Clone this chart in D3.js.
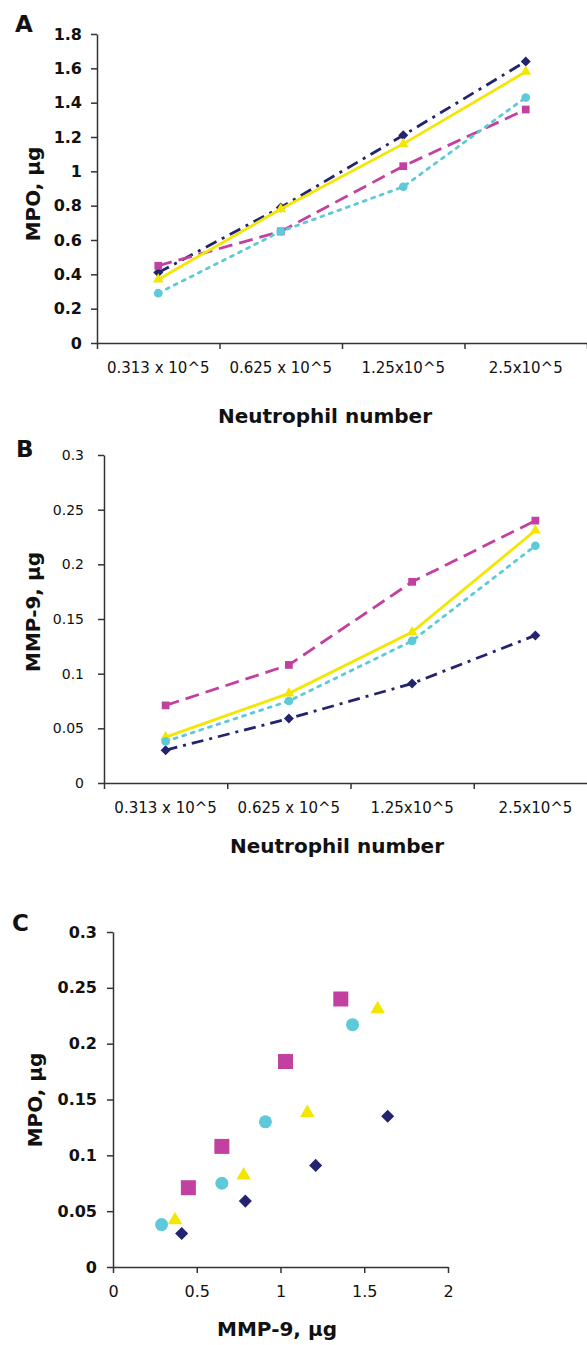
<!DOCTYPE html>
<html>
<head>
<meta charset="UTF-8">
<style>
  body { margin: 0; background: #fff; }
  svg { display: block; }
  text { font-family: "DejaVu Sans", sans-serif; fill: #111; }
</style>
</head>
<body>
<svg id="chart" width="587" height="1345"></svg>
<script src="https://d3js.org/d3.v7.min.js"></script>
<script>
// data
const groups = ["0.313 x 10^5", "0.625 x 10^5", "1.25x10^5", "2.5x10^5"];
const mpo = [
  [0.41, 0.79, 1.21, 1.64],   // navy diamonds
  [0.45, 0.65, 1.03, 1.36],   // magenta squares
  [0.37, 0.78, 1.16, 1.58],   // yellow triangles
  [0.29, 0.65, 0.91, 1.43]    // cyan circles
];
const mmp9 = [
  [0.030, 0.059, 0.091, 0.135],
  [0.071, 0.108, 0.184, 0.240],
  [0.042, 0.082, 0.138, 0.231],
  [0.038, 0.075, 0.130, 0.217]
];
const mpoTicks = [0, 0.2, 0.4, 0.6, 0.8, 1, 1.2, 1.4, 1.6, 1.8];
const mmpTicks = [0, 0.05, 0.1, 0.15, 0.2, 0.25, 0.3];
const scatterXTicks = [0, 0.5, 1, 1.5, 2];

const colors = ["#23236f", "#c2409f", "#f3e600", "#5ec9d8"];
const dashes = ["12,6,3,6", "14,7", null, "3,6"];
const symbols = ["diamond", "square", "triangle", "circle"];

const svg = d3.select("#chart");

function marker(kind, size) {
  if (kind === "diamond" || kind === "square") return d3.symbol(d3.symbolSquare, size)();
  if (kind === "triangle") return d3.symbol(d3.symbolTriangle, size)();
  return d3.symbol(d3.symbolCircle, size)();
}

function styleAxis(g) {
  g.selectAll("path.domain").attr("stroke", "#333").attr("stroke-width", 1.5);
  g.selectAll(".tick line").attr("stroke", "#333").attr("stroke-width", 1.5);
}

function linePanel(opt) {
  const x = d3.scaleBand().domain(groups).range([opt.x0, opt.x1]);
  const xb = d3.scaleLinear().domain([0, 4]).range([opt.x0, opt.x1]);
  const y = d3.scaleLinear().domain([0, opt.ymax]).range([opt.yBot, opt.yTop]);

  // ticks on the group boundaries
  svg.append("g")
    .attr("transform", `translate(0,${opt.yBot})`)
    .call(d3.axisBottom(xb).tickValues([0, 1, 2, 3, 4]).tickFormat("").tickSize(6).tickSizeOuter(0))
    .call(styleAxis);
  // group labels
  const lab = svg.append("g")
    .attr("transform", `translate(0,${opt.yBot})`)
    .call(d3.axisBottom(x).tickSize(0));
  lab.select(".domain").remove();
  lab.selectAll("text").attr("y", 19).style("font-size", "15px").attr("font-family", "DejaVu Sans");

  const ya = svg.append("g")
    .attr("transform", `translate(${opt.x0},0)`)
    .call(d3.axisLeft(y).tickValues(opt.ticks).tickSize(6).tickSizeOuter(0).tickPadding(opt.pad)
      .tickFormat(d => String(+d.toFixed(2))))
    .call(styleAxis);
  ya.selectAll("text").style("font-size", opt.yFont + "px").style("font-weight", opt.yBold ? "bold" : "normal")
    .attr("font-family", "DejaVu Sans");

  const cx = i => x(groups[i]) + x.bandwidth() / 2;
  const line = d3.line().x((d, i) => cx(i)).y(d => y(d));
  opt.data.forEach((s, k) => {
    svg.append("path").datum(s)
      .attr("d", line).attr("fill", "none")
      .attr("stroke", colors[k]).attr("stroke-width", 2.8)
      .attr("stroke-dasharray", dashes[k])
      .attr("stroke-linecap", k === 3 ? "round" : "butt");
    const sz = [50, 60, 50, 60][k];
    svg.append("g").selectAll("path").data(s).join("path")
      .attr("d", marker(symbols[k], sz))
      .attr("transform", (d, i) => `translate(${cx(i)},${y(d)})` + (symbols[k] === "diamond" ? " rotate(45)" : ""))
      .attr("fill", colors[k]);
  });

  svg.append("text").attr("x", opt.xTitleX).attr("y", opt.xTitleY)
    .attr("text-anchor", "middle").style("font-size", "20px").style("font-weight", "bold")
    .text("Neutrophil number");
  svg.append("text").attr("transform", `translate(${opt.yTitleX},${opt.yTitleY}) rotate(-90)`)
    .attr("text-anchor", "middle").style("font-size", "20px").style("font-weight", "bold")
    .text(opt.yTitle);
  svg.append("text").attr("x", opt.letterX).attr("y", opt.letterY)
    .style("font-size", "23px").style("font-weight", "bold").text(opt.letter);
}

linePanel({
  letter: "A", letterX: 15, letterY: 32,
  x0: 97, x1: 587, yTop: 34, yBot: 343, ymax: 1.8, ticks: mpoTicks,
  yFont: 16, yBold: true, pad: 9, data: mpo,
  yTitle: "MPO, µg", yTitleX: 40, yTitleY: 194,
  xTitleX: 325, xTitleY: 423
});

linePanel({
  letter: "B", letterX: 16, letterY: 457,
  x0: 104, x1: 597, yTop: 455, yBot: 783, ymax: 0.3, ticks: mmpTicks,
  yFont: 14, yBold: false, pad: 14, data: mmp9,
  yTitle: "MMP-9, µg", yTitleX: 40, yTitleY: 612,
  xTitleX: 337, xTitleY: 853
});

// panel C: MPO of each series against its MMP-9
{
  const x = d3.scaleLinear().domain([0, 2]).range([113, 448]);
  const y = d3.scaleLinear().domain([0, 0.3]).range([1267, 932]);

  const xa = svg.append("g").attr("transform", "translate(0,1267)")
    .call(d3.axisBottom(x).tickValues(scatterXTicks).tickSize(6).tickSizeOuter(0).tickPadding(13)
      .tickFormat(d => String(d)))
    .call(styleAxis);
  xa.selectAll("text").style("font-size", "16px").attr("font-family", "DejaVu Sans");

  const ya = svg.append("g").attr("transform", "translate(113,0)")
    .call(d3.axisLeft(y).tickValues(mmpTicks).tickSize(6).tickSizeOuter(0).tickPadding(10)
      .tickFormat(d => String(+d.toFixed(2))))
    .call(styleAxis);
  ya.selectAll("text").style("font-size", "16px").style("font-weight", "bold").attr("font-family", "DejaVu Sans");

  const sizes = [85, 225, 90, 133];
  mpo.forEach((s, k) => {
    svg.append("g").selectAll("path").data(s).join("path")
      .attr("d", marker(symbols[k], sizes[k]))
      .attr("transform", (d, i) => `translate(${x(d)},${y(mmp9[k][i])})` + (symbols[k] === "diamond" ? " rotate(45)" : ""))
      .attr("fill", colors[k]);
  });

  svg.append("text").attr("x", 277).attr("y", 1336)
    .attr("text-anchor", "middle").style("font-size", "20px").style("font-weight", "bold")
    .text("MMP-9, µg");
  svg.append("text").attr("transform", "translate(42,1100) rotate(-90)")
    .attr("text-anchor", "middle").style("font-size", "20px").style("font-weight", "bold")
    .text("MPO, µg");
  svg.append("text").attr("x", 12).attr("y", 931)
    .style("font-size", "23px").style("font-weight", "bold").text("C");
}
</script>
</body>
</html>
